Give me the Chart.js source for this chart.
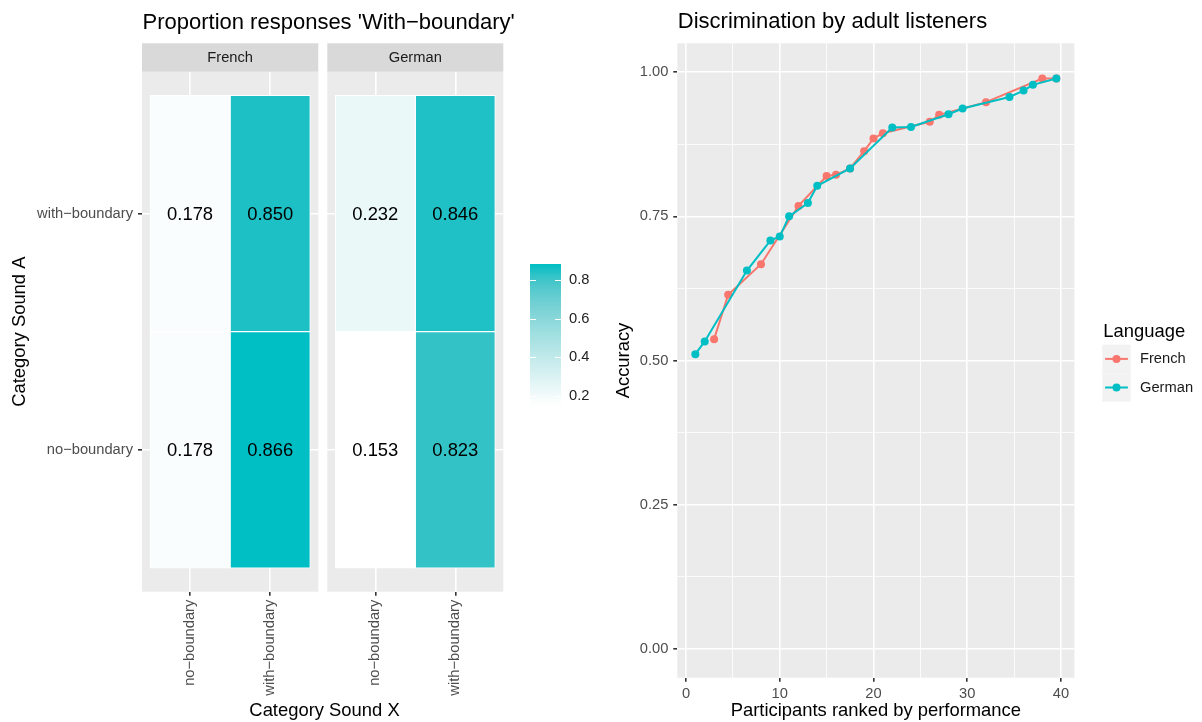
<!DOCTYPE html>
<html>
<head>
<meta charset="utf-8">
<title>Proportion responses and discrimination</title>
<script src="https://cdn.jsdelivr.net/npm/chart.js@4"></script>
<style>
  html, body { margin: 0; padding: 0; background: #fff; }
  #wrap { position: relative; width: 1202px; height: 722px; overflow: hidden; }
  canvas { position: absolute; top: 0; }
</style>
</head>
<body>
<div id="wrap">
  <canvas id="french" width="520" height="722" style="left:0px"></canvas>
  <canvas id="german" width="190" height="722" style="left:320px"></canvas>
  <canvas id="colorbar" width="80" height="722" style="left:520px"></canvas>
  <canvas id="ranked" width="602" height="722" style="left:600px"></canvas>
</div>
<script>
// ---- data ----
const soundX = ['no−boundary', 'with−boundary'];   // Category Sound X (columns)
const soundA = ['no−boundary', 'with−boundary'];   // Category Sound A (rows, bottom to top)
// proportion 'with-boundary' responses, rows = soundA, cols = soundX
const frenchProp = [[0.178, 0.866], [0.178, 0.850]];
const germanProp = [[0.153, 0.823], [0.232, 0.846]];
const colorTicks = [0.2, 0.4, 0.6, 0.8];

const frenchRank = [3, 4.5, 8, 12, 15, 16, 17.5, 19, 20, 21, 26, 27, 32, 38, 39.5];
const frenchAcc = [0.537, 0.614, 0.667, 0.768, 0.820, 0.822, 0.833, 0.863, 0.885, 0.894, 0.914, 0.926, 0.948, 0.989, 0.989];
const germanRank = [1, 2, 6.5, 9, 10, 11, 13, 14, 17.5, 22, 24, 28, 29.5, 34.5, 36, 37, 39.5];
const germanAcc = [0.511, 0.533, 0.656, 0.708, 0.715, 0.750, 0.773, 0.803, 0.833, 0.904, 0.905, 0.927, 0.937, 0.957, 0.968, 0.978, 0.989];
const rankTicks = [0, 10, 20, 30, 40];
const accTicks = [0, 0.25, 0.5, 0.75, 1];

const FRENCH_COL = '#F8766D';
const GERMAN_COL = '#00BFC4';
const FONT = '"Liberation Sans", Arial, Helvetica, sans-serif';
Chart.defaults.font.family = FONT;

// ---- colour scale (white -> teal, interpolated in Lab like ggplot) ----
function toLin(c) { c /= 255; return c <= 0.04045 ? c / 12.92 : Math.pow((c + 0.055) / 1.055, 2.4); }
function fromLin(c) {
  const v = c <= 0.0031308 ? 12.92 * c : 1.055 * Math.pow(c, 1 / 2.4) - 0.055;
  return Math.round(Math.max(0, Math.min(1, v)) * 255);
}
function hexToLab(hex) {
  const r = toLin(parseInt(hex.slice(1, 3), 16)), g = toLin(parseInt(hex.slice(3, 5), 16)), b = toLin(parseInt(hex.slice(5, 7), 16));
  const X = (0.4124 * r + 0.3576 * g + 0.1805 * b) / 0.95047;
  const Y = 0.2126 * r + 0.7152 * g + 0.0722 * b;
  const Z = (0.0193 * r + 0.1192 * g + 0.9505 * b) / 1.08883;
  const f = t => t > 0.008856 ? Math.cbrt(t) : 7.787 * t + 16 / 116;
  return [116 * f(Y) - 16, 500 * (f(X) - f(Y)), 200 * (f(Y) - f(Z))];
}
function labToRgb(L, a, b) {
  const fy = (L + 16) / 116, fx = fy + a / 500, fz = fy - b / 200;
  const inv = t => t * t * t > 0.008856 ? t * t * t : (t - 16 / 116) / 7.787;
  const X = inv(fx) * 0.95047, Y = inv(fy), Z = inv(fz) * 1.08883;
  const r = 3.2406 * X - 1.5372 * Y - 0.4986 * Z;
  const g = -0.9689 * X + 1.8758 * Y + 0.0415 * Z;
  const bl = 0.0557 * X - 0.2040 * Y + 1.0570 * Z;
  return 'rgb(' + fromLin(r) + ',' + fromLin(g) + ',' + fromLin(bl) + ')';
}
const allProp = frenchProp.flat().concat(germanProp.flat());
const vMin = Math.min(...allProp), vMax = Math.max(...allProp);
const labLow = hexToLab('#FFFFFF'), labHigh = hexToLab('#00BFC4');
function fillFor(v) {
  const t = Math.max(0, Math.min(1, (v - vMin) / (vMax - vMin)));
  return labToRgb(labLow[0] + (labHigh[0] - labLow[0]) * t, labLow[1] + (labHigh[1] - labLow[1]) * t, labLow[2] + (labHigh[2] - labLow[2]) * t);
}

// ---- plugins ----
const panelBg = {
  id: 'panelBg',
  beforeDraw(chart, args, opts) {
    if (!opts.color) return;
    const a = chart.chartArea, ctx = chart.ctx;
    ctx.save();
    ctx.fillStyle = opts.color;
    ctx.fillRect(a.left, a.top, a.right - a.left, a.bottom - a.top);
    ctx.restore();
  }
};

const ggText = {
  id: 'ggText',
  afterDraw(chart, args, opts) {
    const ctx = chart.ctx, a = chart.chartArea;
    ctx.save();
    if (opts.strip) {
      ctx.fillStyle = '#D9D9D9';
      ctx.fillRect(a.left, 43.3, a.right - a.left, a.top - 43.3);
      ctx.fillStyle = '#1A1A1A';
      ctx.font = '14.7px ' + FONT;
      ctx.textAlign = 'center';
      ctx.textBaseline = 'middle';
      ctx.fillText(opts.strip, (a.left + a.right) / 2, (43.3 + a.top) / 2 + 0.5);
    }
    if (opts.title) {
      ctx.fillStyle = '#000';
      ctx.font = '22px ' + FONT;
      ctx.textAlign = 'left';
      ctx.textBaseline = 'alphabetic';
      ctx.fillText(opts.title, a.left + 0.5, opts.titleY);
    }
    if (opts.xTitle) {
      ctx.fillStyle = '#000';
      ctx.font = '18.4px ' + FONT;
      ctx.textAlign = 'center';
      ctx.textBaseline = 'middle';
      ctx.fillText(opts.xTitle, opts.xTitleX, 710.5);
    }
    ctx.restore();
  }
};

const tileLabels = {
  id: 'tileLabels',
  afterDatasetsDraw(chart, args, opts) {
    if (!opts.show) return;
    const ctx = chart.ctx, meta = chart.getDatasetMeta(0), data = chart.data.datasets[0].data;
    ctx.save();
    ctx.font = '18.4px ' + FONT;
    ctx.fillStyle = '#000';
    ctx.textAlign = 'center';
    ctx.textBaseline = 'middle';
    meta.data.forEach((el, i) => ctx.fillText(data[i].v.toFixed(3), el.x, (el.y + el.base) / 2 + 1));
    ctx.restore();
  }
};

// ---- heatmap facets ----
function facetData(values) {
  const pts = [];
  soundA.forEach((a, r) => soundX.forEach((x, c) => {
    pts.push({x: c + 1, y: [r + 0.5, r + 1.5], v: values[r][c]});
  }));
  return pts;
}

function makeFacet(id, name, values, showY, pad, extraText) {
  const tickFont = {size: 14.7};
  return new Chart(document.getElementById(id), {
    type: 'bar',
    data: {
      datasets: [{
        data: facetData(values),
        backgroundColor: c => fillFor(c.raw.v),
        borderColor: '#ffffff',
        borderWidth: 1,
        borderSkipped: false,
        barPercentage: 1,
        categoryPercentage: 1
      }]
    },
    options: {
      responsive: false,
      animation: false,
      layout: {padding: {top: 71.7, bottom: 0, left: pad.left, right: pad.right}},
      plugins: {
        legend: {display: false},
        tooltip: {enabled: false},
        panelBg: {color: '#EBEBEB'},
        tileLabels: {show: true},
        ggText: Object.assign({strip: name}, extraText)
      },
      scales: {
        x: {
          type: 'linear', min: 0.4, max: 2.6, offset: false,
          afterBuildTicks: s => { s.ticks = soundX.map((_, i) => ({value: i + 1})); },
          afterFit: s => { s.height = 130.3; },
          grid: {color: '#ffffff', lineWidth: 1.6, tickColor: '#333333', tickLength: 4, offset: false},
          border: {display: false},
          ticks: {callback: v => soundX[v - 1], minRotation: 90, maxRotation: 90, autoSkip: false,
                  color: '#4D4D4D', font: tickFont, padding: 4}
        },
        y: {
          type: 'linear', min: 0.4, max: 2.6,
          afterBuildTicks: s => { s.ticks = soundA.map((_, i) => ({value: i + 1})); },
          afterFit: s => { s.width = showY ? 142 : 0; },
          grid: {color: '#ffffff', lineWidth: 1.6, tickColor: '#333333', tickLength: 4, drawTicks: showY},
          border: {display: false},
          ticks: {display: showY, callback: v => soundA[v - 1], autoSkip: false,
                  color: '#4D4D4D', font: tickFont, padding: 5},
          title: {display: showY, text: 'Category Sound A', color: '#000', font: {size: 18.4}, padding: {top: 8.5, bottom: 0}}
        }
      }
    },
    plugins: [panelBg, tileLabels, ggText]
  });
}

makeFacet('french', 'French', frenchProp, true, {left: 0, right: 201.7}, {
  title: "Proportion responses 'With−boundary'", titleY: 29.3,
  xTitle: 'Category Sound X', xTitleX: 324.5
});
makeFacet('german', 'German', germanProp, false, {left: 7.3, right: 6.7}, {});

// ---- colour bar ----
const barPad = (vMax - vMin) / 38;   // half a bin of a 20-bin bar
const barLo = vMin - barPad, barHi = vMax + barPad;
const barTicks = {
  id: 'barTicks',
  afterDatasetsDraw(chart) {
    const ctx = chart.ctx, a = chart.chartArea, ys = chart.scales.y;
    ctx.save();
    ctx.strokeStyle = '#ffffff';
    ctx.lineWidth = 1;
    colorTicks.forEach(t => {
      const y = Math.round(ys.getPixelForValue(t)) + 0.5;
      ctx.beginPath();
      ctx.moveTo(a.left, y); ctx.lineTo(a.left + 6, y);
      ctx.moveTo(a.right - 6, y); ctx.lineTo(a.right, y);
      ctx.stroke();
    });
    ctx.restore();
  }
};
new Chart(document.getElementById('colorbar'), {
  type: 'bar',
  data: {
    labels: [''],
    datasets: [{
      data: [[barLo, barHi]],
      backgroundColor: c => {
        const chart = c.chart;
        if (!chart.chartArea) return '#00BFC4';
        const ys = chart.scales.y;
        const g = chart.ctx.createLinearGradient(0, ys.getPixelForValue(barLo), 0, ys.getPixelForValue(barHi));
        for (let i = 0; i <= 24; i++) {
          const t = i / 24;
          g.addColorStop(t, fillFor(barLo + (barHi - barLo) * t));
        }
        return g;
      },
      borderWidth: 0,
      barPercentage: 1,
      categoryPercentage: 1
    }]
  },
  options: {
    responsive: false,
    animation: false,
    layout: {padding: {top: 264, bottom: 313.4, left: 10, right: 0}},
    plugins: {legend: {display: false}, tooltip: {enabled: false}},
    scales: {
      x: {display: false},
      y: {
        position: 'right', min: barLo, max: barHi,
        afterBuildTicks: s => { s.ticks = colorTicks.map(v => ({value: v})); },
        afterFit: s => { s.width = 39; },
        grid: {display: false, drawTicks: false},
        border: {display: false},
        ticks: {callback: v => v.toFixed(1), color: '#222222', font: {size: 14.7}, padding: 8}
      }
    }
  },
  plugins: [barTicks]
});

// ---- ranked accuracy ----
const rankLegend = {
  id: 'rankLegend',
  afterDraw(chart) {
    const ctx = chart.ctx;
    const x0 = 502.3, size = 28.4;
    const items = [['French', FRENCH_COL, 344.7], ['German', GERMAN_COL, 373.3]];
    ctx.save();
    ctx.fillStyle = '#000';
    ctx.font = '18.4px ' + FONT;
    ctx.textAlign = 'left';
    ctx.textBaseline = 'alphabetic';
    ctx.fillText('Language', 503.3, 336.7);
    items.forEach(([label, col, top]) => {
      ctx.fillStyle = '#F2F2F2';
      ctx.fillRect(x0, top, size, size);
      const cy = top + size / 2;
      ctx.strokeStyle = col;
      ctx.lineWidth = 2;
      ctx.beginPath();
      ctx.moveTo(x0 + 2.8, cy); ctx.lineTo(x0 + size - 2.8, cy);
      ctx.stroke();
      ctx.fillStyle = col;
      ctx.beginPath();
      ctx.arc(x0 + size / 2, cy, 4, 0, Math.PI * 2);
      ctx.fill();
      ctx.fillStyle = '#1A1A1A';
      ctx.font = '14.7px ' + FONT;
      ctx.textBaseline = 'middle';
      ctx.fillText(label, 540, cy + 0.5);
      ctx.textBaseline = 'alphabetic';
      ctx.font = '18.4px ' + FONT;
    });
    ctx.restore();
  }
};

function series(ranks, acc) { return ranks.map((r, i) => ({x: r, y: acc[i]})); }
const rankMinor = rankTicks.slice(1).map((t, i) => (t + rankTicks[i]) / 2);
const accMinor = accTicks.slice(1).map((t, i) => (t + accTicks[i]) / 2);
const isMajor = (list, v) => list.some(t => Math.abs(t - v) < 1e-9);

new Chart(document.getElementById('ranked'), {
  type: 'line',
  data: {
    datasets: [
      {label: 'French', data: series(frenchRank, frenchAcc), borderColor: FRENCH_COL, backgroundColor: FRENCH_COL,
       borderWidth: 2, pointRadius: 4, pointBorderWidth: 0, tension: 0, order: 1},
      {label: 'German', data: series(germanRank, germanAcc), borderColor: GERMAN_COL, backgroundColor: GERMAN_COL,
       borderWidth: 2, pointRadius: 4, pointBorderWidth: 0, tension: 0, order: 0}
    ]
  },
  options: {
    responsive: false,
    animation: false,
    layout: {padding: {top: 43.3, bottom: 0, left: 0, right: 127.6}},
    plugins: {
      legend: {display: false},
      tooltip: {enabled: false},
      panelBg: {color: '#EBEBEB'},
      ggText: {title: 'Discrimination by adult listeners', titleY: 28.3}
    },
    scales: {
      x: {
        type: 'linear', min: -0.925, max: 41.425,
        afterBuildTicks: s => { s.ticks = rankTicks.concat(rankMinor).sort((a, b) => a - b).map(v => ({value: v})); },
        afterFit: s => { s.height = 44.3; },
        grid: {color: '#ffffff', lineWidth: c => isMajor(rankTicks, c.tick.value) ? 1.6 : 0.8,
               tickColor: c => isMajor(rankTicks, c.tick.value) ? '#333333' : 'rgba(0,0,0,0)', tickLength: 4},
        border: {display: false},
        ticks: {callback: v => isMajor(rankTicks, v) ? String(v) : '', autoSkip: false, maxRotation: 0,
                color: '#4D4D4D', font: {size: 14.7}, padding: 3},
        title: {display: true, text: 'Participants ranked by performance', color: '#000', font: {size: 18.4}, padding: {top: 0, bottom: 0.5}}
      },
      y: {
        type: 'linear', min: -0.05, max: 1.05,
        afterBuildTicks: s => { s.ticks = accTicks.concat(accMinor).sort((a, b) => a - b).map(v => ({value: v})); },
        afterFit: s => { s.width = 77.3; },
        grid: {color: '#ffffff', lineWidth: c => isMajor(accTicks, c.tick.value) ? 1.6 : 0.8,
               tickColor: c => isMajor(accTicks, c.tick.value) ? '#333333' : 'rgba(0,0,0,0)', tickLength: 4},
        border: {display: false},
        ticks: {callback: v => isMajor(accTicks, v) ? v.toFixed(2) : '', autoSkip: false,
                color: '#4D4D4D', font: {size: 14.7}, padding: 5},
        title: {display: true, text: 'Accuracy', color: '#000', font: {size: 18.4}, padding: {top: 13, bottom: 0}}
      }
    }
  },
  plugins: [panelBg, ggText, rankLegend]
});
</script>
</body>
</html>
